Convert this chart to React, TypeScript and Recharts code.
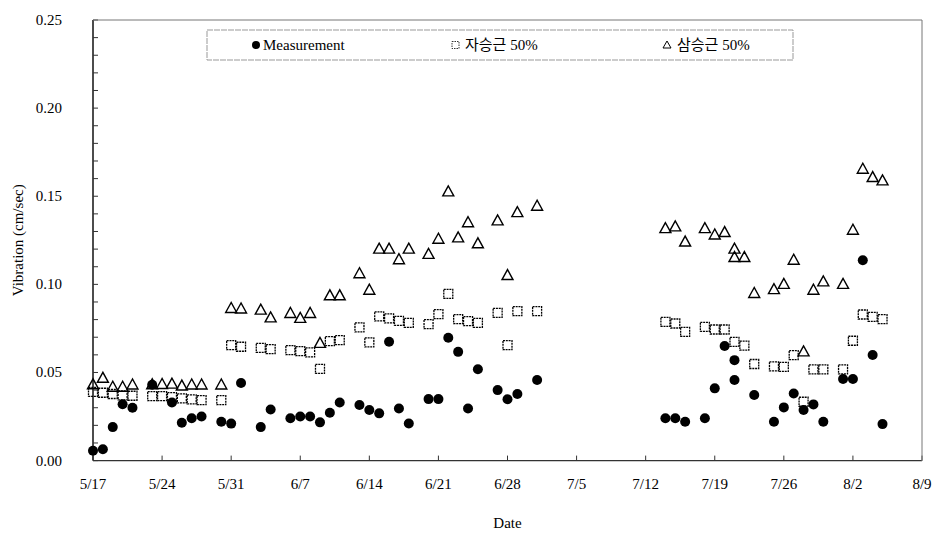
import { ScatterChart, Scatter, XAxis, YAxis, Label } from 'recharts';

// days counted from 5/17; two readings on day 65
const days = [
  0, 1, 2, 3, 4, 6, 7, 8, 9, 10, 11, 13, 14, 15, 17, 18, 20, 21, 22, 23, 24, 25, 27, 28, 29, 30,
  31, 32, 34, 35, 36, 37, 38, 39, 41, 42, 43, 45, 58, 59, 60, 62, 63, 64, 65, 65, 66, 67, 69, 70,
  71, 72, 73, 74, 76, 77, 78, 79, 80,
];

const measurement = [
  0.0056, 0.0064, 0.019, 0.032, 0.03, 0.043, null, 0.033, 0.0215, 0.024, 0.025, 0.022, 0.021, 0.044,
  0.019, 0.029, 0.024, 0.025, 0.025, 0.0217, 0.0272, 0.033, 0.0315, 0.0287, 0.0268, 0.0674, 0.0296,
  0.0211, 0.0349, 0.0349, 0.0697, 0.0617, 0.0296, 0.0518, 0.04, 0.0348, 0.0378, 0.0457, 0.024, 0.024,
  0.022, 0.024, 0.041, 0.065, 0.057, 0.0457, null, 0.0372, 0.022, 0.0302, 0.0381, 0.0287, 0.0319,
  0.022, 0.0463, 0.0463, 0.1137, 0.0599, 0.0207,
];

const sqrtRoot50 = [
  0.039, 0.0385, 0.0378, 0.037, 0.0368, 0.0366, 0.0366, 0.036, 0.0353, 0.0347, 0.0343, 0.0343, 0.0655,
  0.0646, 0.064, 0.0633, 0.0627, 0.0621, 0.0614, 0.052, 0.0678, 0.0684, 0.0756, 0.0671, 0.0818, 0.0807,
  0.0793, 0.0782, 0.0774, 0.0831, 0.0946, 0.0803, 0.0791, 0.0782, 0.0838, 0.0655, 0.0848, 0.0848,
  0.0787, 0.0778, 0.073, 0.0759, 0.0744, 0.0744, 0.0674, null, 0.0652, 0.0548, 0.0535, 0.0532, 0.0599,
  0.0334, 0.0518, 0.0518, 0.0518, 0.068, 0.0829, 0.0816, 0.0803,
];

const cubeRoot50 = [
  0.043, 0.0467, 0.0416, 0.0416, 0.0429, 0.043, 0.0432, 0.0434, 0.0423, 0.0429, 0.0429, 0.0429, 0.0863,
  0.086, 0.0854, 0.081, 0.0835, 0.0807, 0.0835, 0.0665, 0.0935, 0.0935, 0.106, 0.0967, 0.12, 0.12,
  0.114, 0.12, 0.117, 0.1256, 0.1525, 0.1264, 0.135, 0.123, 0.136, 0.105, 0.1407, 0.1443, 0.1316,
  0.1326, 0.124, 0.1316, 0.128, 0.1294, 0.12, 0.1152, 0.1152, 0.0948, 0.097, 0.1, 0.1137, 0.0617,
  0.0967, 0.1014, 0.1, 0.1307, 0.1653, 0.1606, 0.1587,
];

const tickDays = [0, 7, 14, 21, 28, 35, 42, 49, 56, 63, 70, 77, 84];
const tickLabels = ['5/17', '5/24', '5/31', '6/7', '6/14', '6/21', '6/28', '7/5', '7/12', '7/19', '7/26', '8/2', '8/9'];
const yTicks = [
  0, 0.01, 0.02, 0.03, 0.04, 0.05, 0.06, 0.07, 0.08, 0.09, 0.1, 0.11, 0.12, 0.13, 0.14, 0.15, 0.16,
  0.17, 0.18, 0.19, 0.2, 0.21, 0.22, 0.23, 0.24, 0.25,
];

const SERIF = '"Liberation Serif", "Times New Roman", "Noto Sans CJK KR", serif';

function toPoints(values: (number | null)[]) {
  return days
    .map((day, i) => ({ day, value: values[i] }))
    .filter((p) => p.value != null);
}

const measData = toPoints(measurement);
const sqrtData = toPoints(sqrtRoot50);
const cubeData = toPoints(cubeRoot50);

function Dot(props: any) {
  if (props.cx == null) return null;
  return <circle cx={props.cx} cy={props.cy} r={5} fill="#000" />;
}

function Square(props: any) {
  if (props.cx == null) return null;
  return (
    <rect
      x={props.cx - 4.5}
      y={props.cy - 4.5}
      width={9}
      height={9}
      fill="none"
      stroke="#000"
      strokeWidth={1.3}
      strokeDasharray="2 0.8"
    />
  );
}

function Tri(props: any) {
  if (props.cx == null) return null;
  const { cx, cy } = props;
  return (
    <polygon
      points={`${cx},${cy - 6} ${cx - 5.5},${cy + 4} ${cx + 5.5},${cy + 4}`}
      fill="none"
      stroke="#000"
      strokeWidth={1.4}
    />
  );
}

function XTick({ x, y, payload }: any) {
  const idx = tickDays.indexOf(payload.value);
  return (
    <g>
      <line x1={x} y1={y} x2={x} y2={y - 5} stroke="#333" />
      <text x={x} y={y + 28} textAnchor="middle" fontSize={15} fontFamily={SERIF} fill="#000">
        {tickLabels[idx]}
      </text>
    </g>
  );
}

function YTick({ x, y, payload }: any) {
  const v = payload.value as number;
  const major = Math.round(v * 100) % 5 === 0;
  return (
    <g>
      <line x1={x} y1={y} x2={x + 5} y2={y} stroke="#333" />
      {major && (
        <text x={x - 31} y={y + 5} textAnchor="end" fontSize={15} fontFamily={SERIF} fill="#000">
          {v.toFixed(2)}
        </text>
      )}
    </g>
  );
}

function Legend() {
  const ty = 50;
  return (
    <svg
      width={936}
      height={534}
      style={{ position: 'absolute', left: 0, top: 0, pointerEvents: 'none' }}
    >
      {/* plot frame top / right */}
      <line x1={93} y1={20} x2={922} y2={20} stroke="#777" />
      <line x1={922} y1={20} x2={922} y2={461} stroke="#777" />
      <rect x={207} y={30} width={586} height={30} fill="#fff" stroke="#999" strokeDasharray="6 1" />
      <circle cx={256} cy={45} r={4} fill="#000" />
      <text x={263} y={ty} fontSize={15} fontFamily={SERIF}>Measurement</text>
      <rect x={452} y={41.5} width={7} height={7} fill="none" stroke="#333" strokeDasharray="1.5 1" />
      <text x={465} y={ty} fontSize={15} fontFamily={SERIF}>자승근 50%</text>
      <polygon points="667,41 663,48 671,48" fill="none" stroke="#000" />
      <text x={677} y={ty} fontSize={15} fontFamily={SERIF}>삼승근 50%</text>
    </svg>
  );
}

export default function App() {
  return (
    <div style={{ position: 'absolute', left: 0, top: 0, width: 936, height: 534, background: '#fff' }}>
      <ScatterChart width={936} height={534} margin={{ top: 20, right: 14, bottom: 0, left: 0 }}>
        <XAxis
          type="number"
          dataKey="day"
          domain={[0, 84]}
          ticks={tickDays}
          interval={0}
          tickSize={0}
          tickMargin={0}
          height={73.4}
          tick={<XTick />}
          axisLine={{ stroke: '#333', strokeWidth: 1.3 }}
          label={
            <Label
              content={({ viewBox }: any) => {
                const vb = viewBox ?? { x: 93, y: 460.6, width: 829 };
                return (
                  <text x={vb.x + vb.width / 2} y={vb.y + 67} textAnchor="middle" fontSize={15} fontFamily={SERIF}>
                    Date
                  </text>
                );
              }}
            />
          }
        />
        <YAxis
          type="number"
          dataKey="value"
          domain={[0, 0.25]}
          ticks={yTicks}
          interval={0}
          tickSize={0}
          tickMargin={0}
          width={93}
          tick={<YTick />}
          axisLine={{ stroke: '#111', strokeWidth: 1.5 }}
          label={
            <Label
              content={({ viewBox }: any) => {
                const vb = viewBox ?? { x: 0, y: 20, height: 440.6 };
                return (
                  <text
                    transform={`translate(${vb.x + 23}, ${vb.y + vb.height / 2}) rotate(-90)`}
                    textAnchor="middle"
                    fontSize={15}
                    fontFamily={SERIF}
                  >
                    Vibration (cm/sec)
                  </text>
                );
              }}
            />
          }
        />
        <Scatter name="자승근 50%" data={sqrtData} shape={<Square />} isAnimationActive={false} />
        <Scatter name="삼승근 50%" data={cubeData} shape={<Tri />} isAnimationActive={false} />
        <Scatter name="Measurement" data={measData} shape={<Dot />} isAnimationActive={false} />
      </ScatterChart>
      <Legend />
    </div>
  );
}
